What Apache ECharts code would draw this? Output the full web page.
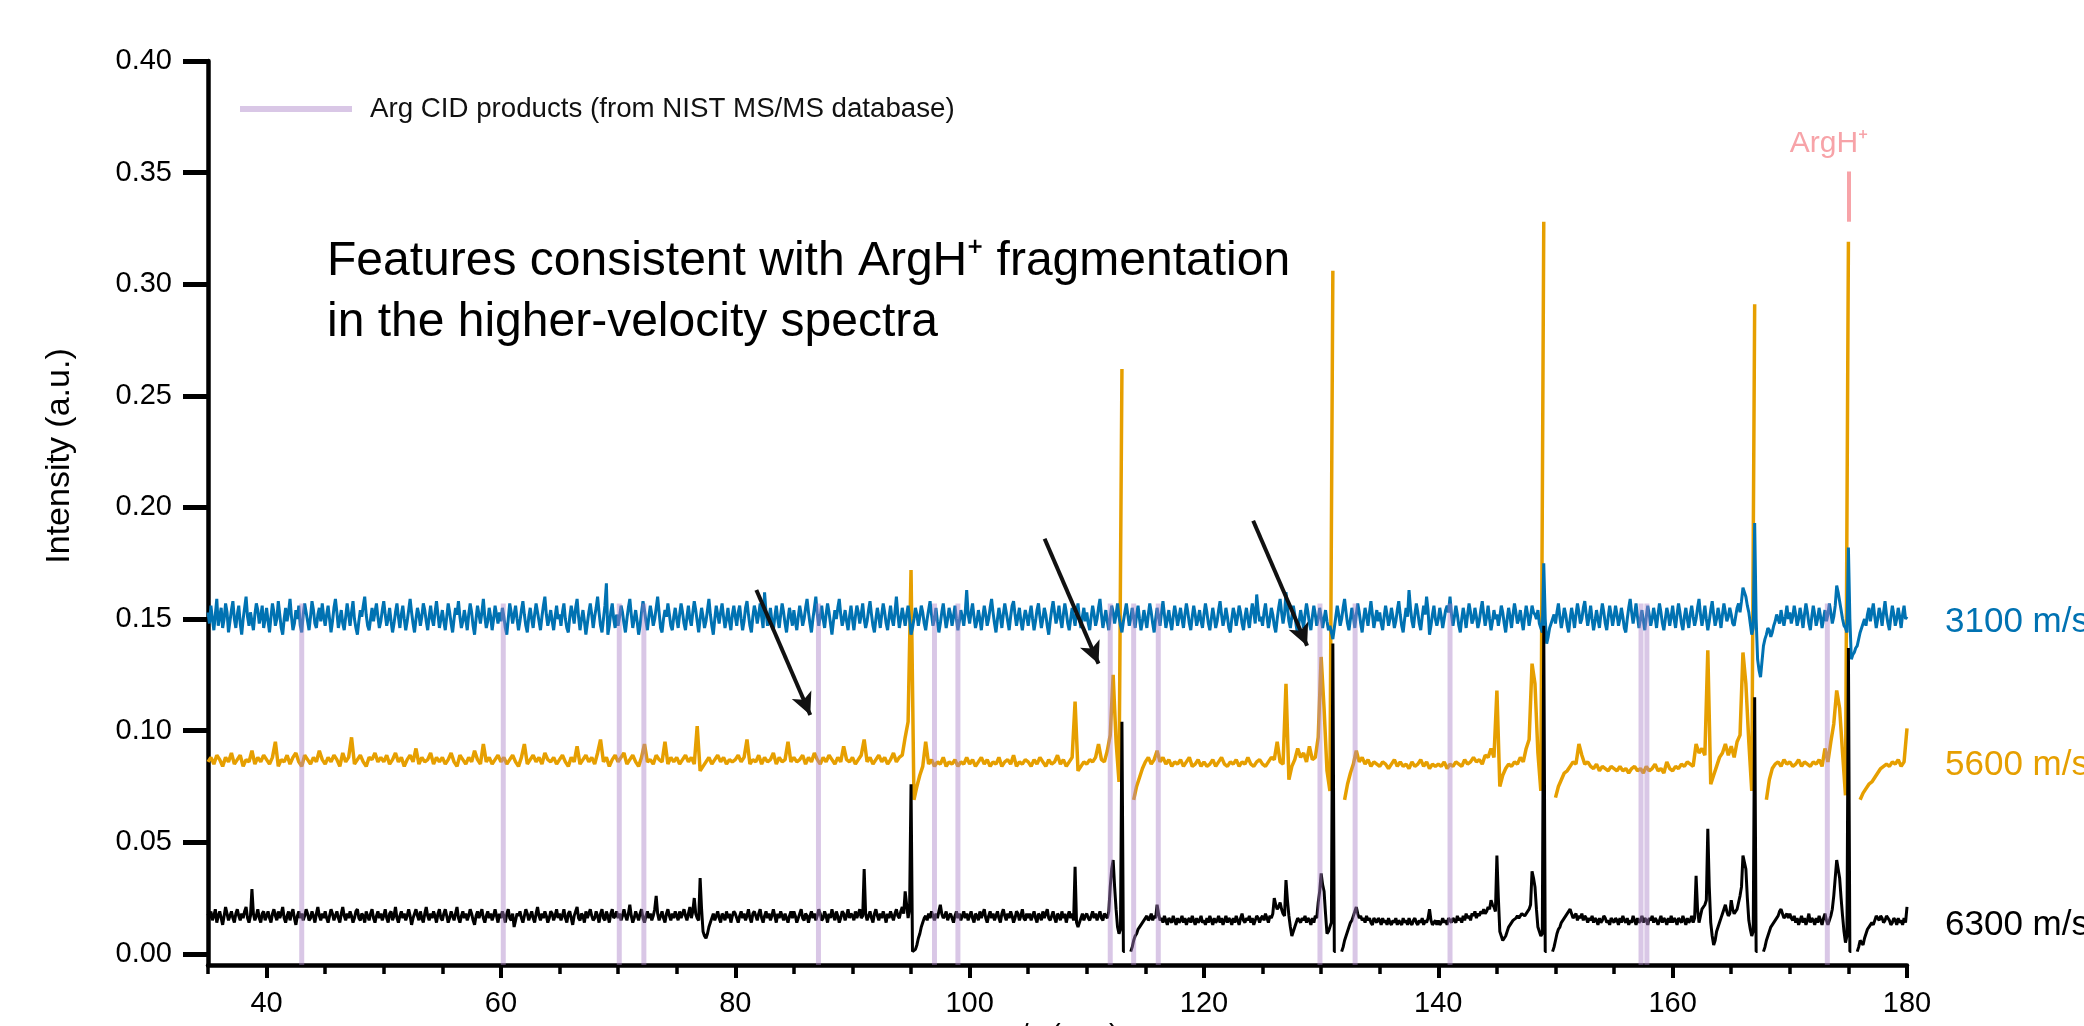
<!DOCTYPE html>
<html>
<head>
<meta charset="utf-8">
<title>ArgH+ spectra</title>
<script src="https://cdn.jsdelivr.net/npm/echarts@6/dist/echarts.min.js"></script>
<style>
  html, body { margin: 0; padding: 0; background: #fff; }
  #chart { width: 2084px; height: 1026px; }
</style>
</head>
<body>
<div id="chart"></div>
<script>
const _ = null;

// all spectra start at m/z 35 and end at 180, intensities in thousandths (a.u.)
// 3100 and 6300 m/s are read every 0.125 m/z, 5600 m/s every 0.25 m/z
const mzStart = 35;
const fineStep = 0.125;
const coarseStep = 0.25;

const blue3100 = [
  153,148,156,150,145,152,159,147,151,155,146,150,157,153,144,149,154,158,150,146,152,156,148,143,150,155,160,151,147,153,149,145,152,157,154,148,151,156,146,150,
  155,149,144,151,157,153,147,150,158,152,146,143,150,155,149,153,159,151,145,148,154,150,156,147,144,152,157,153,149,145,151,158,154,148,146,152,155,149,157,151,
  147,152,156,150,144,149,155,159,153,146,150,154,148,145,151,157,152,147,153,158,150,146,143,149,154,151,156,160,152,147,145,150,155,149,153,157,151,146,149,154,
  158,152,147,150,155,149,144,148,153,157,151,146,152,156,150,145,149,154,159,153,148,144,150,155,152,147,151,157,154,149,145,151,156,150,147,153,158,152,146,150,
  154,149,145,151,157,153,148,144,150,155,152,158,151,146,149,154,150,145,152,157,153,147,143,150,156,152,148,153,159,151,146,149,155,151,145,150,156,152,148,153,
  149,155,151,146,143,150,157,153,148,152,156,150,145,149,154,158,152,147,144,151,155,150,146,152,157,153,149,145,151,156,160,152,147,150,154,149,145,151,156,150,
  152,147,153,157,150,146,144,151,156,152,148,155,159,151,145,150,154,149,143,148,153,157,152,146,151,155,160,153,147,144,150,156,166,143,147,153,157,150,146,152,
  147,151,156,153,148,144,150,155,159,152,146,150,154,149,143,147,153,158,154,149,145,151,156,152,147,150,155,160,153,146,144,150,154,151,157,152,147,145,151,155,
  150,146,152,157,153,148,145,151,156,150,147,153,158,154,149,144,150,155,151,146,149,154,159,152,147,143,150,156,152,148,153,157,151,146,150,155,149,145,152,156,
  151,147,153,156,150,145,149,155,158,152,147,144,151,156,153,148,152,157,151,146,162,153,147,150,155,149,145,151,156,150,146,152,157,153,148,144,150,155,151,147,
  154,149,145,151,156,152,147,150,155,159,153,148,144,150,155,160,152,147,151,156,150,146,152,157,153,148,143,149,154,150,155,159,152,147,150,154,149,145,151,156,
  150,145,151,156,153,148,152,157,150,146,149,154,158,152,147,144,150,155,151,146,152,157,153,148,145,151,156,150,147,153,160,152,146,150,155,151,147,152,156,150,
  143,146,150,155,152,147,151,156,153,148,145,150,154,158,152,147,150,155,149,144,148,153,157,151,146,150,155,152,147,151,156,150,145,149,154,151,147,153,163,152,
  148,153,157,151,146,149,154,150,145,151,156,152,147,150,155,159,153,148,144,150,155,151,146,152,157,153,149,145,151,156,158,152,147,151,155,149,145,150,154,151,
  147,152,156,150,145,149,154,157,151,146,150,155,152,147,143,149,154,158,153,148,151,156,150,146,152,157,153,148,145,150,155,151,147,153,157,150,146,151,155,149,
  153,148,145,151,156,152,147,150,155,159,152,146,150,154,149,145,151,156,153,148,152,157,151,147,144,149,153,157,152,147,150,155,151,146,152,156,150,145,149,154,
  150,146,152,157,153,148,144,150,155,151,147,153,158,152,146,150,154,149,145,151,156,152,147,151,155,150,146,152,157,153,148,145,151,156,152,147,150,154,149,146,
  152,157,153,148,145,150,155,151,146,149,154,158,152,147,150,155,151,146,144,150,155,152,147,151,156,153,148,145,151,155,150,146,152,157,153,148,161,154,149,151,
  147,153,157,151,146,150,155,152,147,144,150,155,159,153,148,152,162,155,149,146,151,156,152,147,143,149,154,150,146,152,157,153,148,145,151,156,152,147,150,155,
  151,146,150,154,149,145,147,144,141,146,151,156,152,147,150,155,159,153,148,145,150,155,151,146,152,157,153,148,144,150,155,151,147,153,158,152,146,150,154,149,
  153,148,145,151,156,152,147,150,155,151,146,149,154,158,152,147,144,150,155,151,163,155,149,146,152,157,153,148,145,151,156,152,160,154,143,147,152,156,150,147,
  150,155,151,146,150,154,156,153,160,152,147,151,156,152,147,144,150,155,151,146,152,157,153,148,150,155,151,146,149,154,158,152,147,151,156,150,145,149,154,150,
  152,147,151,156,153,148,144,150,155,151,146,152,157,153,148,150,154,149,145,151,156,152,147,151,156,153,152,150,154,148,146,144,175,150,139,142,146,148,150,152,
  148,153,157,151,146,150,155,152,147,144,150,155,151,146,152,157,153,148,150,155,158,152,147,151,156,150,145,149,154,150,146,152,157,153,148,145,151,156,152,147,
  151,156,152,147,150,155,151,146,144,150,155,159,153,148,152,157,151,146,150,154,149,145,151,156,152,147,150,155,151,146,152,157,153,148,145,150,155,152,147,151,
  156,150,146,152,157,153,148,145,151,155,150,146,152,156,151,147,150,155,159,152,147,151,156,150,145,149,154,158,152,147,150,155,151,146,152,157,153,149,151,155,
  152,148,147,151,155,157,153,158,164,162,160,156,153,148,143,146,193,150,132,127,124,131,138,141,143,146,145,142,144,147,149,152,152,148,154,150,147,151,156,150,
  153,148,151,156,152,147,150,155,151,146,152,157,153,148,145,151,156,152,147,150,155,151,146,150,154,149,152,157,153,148,151,156,165,162,158,154,150,147,146,144,
  182,150,132,134,135,137,138,141,144,146,148,150,147,152,155,149,153,157,151,146,150,155,152,147,153,158,152,148,145,151,156,152,147,150,155,151,146,152,156,150,
  151
];

const orange5600 = [
  86,88,85,89,87,84,88,86,90,85,87,89,84,87,86,91,85,88,86,89,
  87,85,88,95,84,87,86,89,85,88,90,86,84,89,87,85,88,86,91,87,
  85,88,86,89,87,84,90,86,88,97,85,87,89,86,84,88,87,90,86,88,
  86,89,85,87,90,86,88,84,87,89,86,92,85,88,86,87,90,85,88,86,
  88,85,87,90,86,84,89,87,85,88,86,91,87,85,94,86,88,85,87,89,
  86,88,85,87,89,86,84,88,94,85,87,89,86,88,85,90,87,86,88,85,
  87,89,86,84,88,86,93,85,87,89,86,88,85,90,96,86,88,84,87,89,
  86,88,90,85,87,89,86,84,88,94,86,87,85,89,87,86,95,85,88,86,
  88,85,87,89,86,88,85,102,82,84,86,88,85,87,89,86,88,85,87,86,
  87,89,86,88,96,85,87,86,89,85,88,86,87,90,85,88,86,87,95,86,
  88,86,87,89,85,88,86,90,87,85,88,86,89,87,85,88,86,93,87,86,
  88,85,87,89,96,86,88,85,87,89,86,88,85,87,90,86,88,89,97,104,
  172,69,75,80,84,95,85,87,84,86,85,88,84,86,85,87,84,86,85,88,
  85,87,84,86,88,85,87,84,86,85,88,84,86,87,85,89,84,86,85,87,
  86,84,87,85,88,86,84,87,85,86,89,85,87,84,86,88,113,82,84,86,
  85,87,86,88,94,87,86,91,98,125,95,77,262,_,_,_,69,75,79,83,
  86,88,85,87,91,86,88,85,87,84,86,85,87,84,86,88,84,85,87,84,
  86,84,85,87,84,86,88,85,84,86,85,87,84,86,85,88,85,84,86,87,
  85,84,86,88,87,95,86,85,121,78,84,87,92,88,90,86,93,87,88,97,
  133,110,82,73,306,_,_,_,69,76,81,85,91,86,88,85,87,84,86,85,
  84,86,85,83,85,87,84,86,84,85,83,86,84,85,87,84,86,83,85,84,
  85,84,86,83,85,84,86,85,84,87,85,86,88,86,87,85,89,88,92,88,
  118,75,80,83,85,84,86,85,88,86,92,96,130,121,90,73,328,_,_,_,
  70,75,78,81,82,84,86,85,94,89,85,86,84,83,85,82,84,83,82,84,
  83,82,84,82,83,81,83,84,82,83,81,84,82,83,85,82,83,81,86,83,
  82,84,83,85,84,86,85,84,94,90,92,89,136,76,80,84,88,90,94,89,
  93,88,95,98,135,121,95,73,291,_,_,_,69,78,83,85,86,84,87,85,
  86,84,85,87,84,86,85,84,86,85,87,84,92,86,95,103,118,110,90,71,
  319,_,_,_,69,72,74,76,77,79,81,83,84,85,84,86,85,87,84,86,
  101
];

const black6300 = [
  18,16,19,15,17,20,14,17,19,16,13,17,21,18,15,17,19,16,14,18,20,17,15,18,16,19,21,16,14,17,29,18,15,17,20,16,14,18,19,15,
  17,19,16,14,18,20,17,15,19,16,18,21,16,14,17,19,15,18,20,16,13,17,19,16,18,15,17,20,18,15,16,19,17,14,18,21,17,15,18,16,
  19,16,14,17,20,18,15,17,19,16,14,18,21,17,15,18,16,19,17,14,16,19,20,16,15,18,17,14,19,17,15,18,20,16,14,17,19,16,18,15,
  17,20,16,14,18,19,15,17,21,16,14,17,19,16,18,15,17,20,17,13,16,18,20,17,15,19,16,14,18,21,17,15,18,16,19,17,14,18,20,16,
  15,18,20,17,14,16,19,17,15,18,21,16,14,17,19,16,18,15,17,20,18,15,13,17,19,16,18,20,16,14,17,19,16,18,15,17,20,17,14,18,
  16,19,17,14,18,20,16,15,18,12,15,18,17,19,16,14,17,20,18,15,17,19,16,14,18,21,17,15,18,16,19,17,14,16,19,18,15,17,20,16,
  18,15,17,20,16,14,18,19,16,13,17,19,21,16,15,18,17,14,19,16,18,20,17,15,16,19,17,14,18,20,16,15,19,17,14,18,20,16,17,19,
  16,18,15,17,20,17,15,18,22,17,14,16,19,17,15,18,20,16,14,17,19,16,18,15,17,20,26,18,15,17,19,16,14,18,20,17,15,18,16,19,
  17,15,19,16,18,20,17,15,18,21,16,19,25,18,16,15,34,20,10,8,7,9,12,14,16,18,15,17,19,16,14,18,17,15,19,16,18,14,17,19,
  18,16,14,17,19,16,18,15,17,20,16,14,18,19,17,15,18,20,16,14,17,19,16,18,15,17,20,17,14,18,16,19,17,15,18,16,14,17,19,16,
  19,17,14,16,18,20,16,15,18,17,14,17,19,16,18,15,17,20,18,15,16,19,17,14,18,16,20,17,15,19,17,14,16,19,18,15,17,20,16,18,
  17,15,19,16,18,20,16,17,38,18,15,17,19,16,14,18,20,17,15,18,16,19,17,14,18,16,19,17,15,18,20,17,16,19,21,18,28,22,16,20,
  76,1,1,2,4,7,9,12,14,16,17,15,18,16,19,17,15,18,16,19,22,18,16,17,19,15,17,18,16,14,17,19,16,18,15,17,19,16,18,15,
  17,19,16,14,18,17,15,19,16,18,20,16,14,17,19,16,18,15,17,19,16,14,18,20,17,15,18,16,19,17,14,16,19,18,15,17,20,16,15,18,
  16,18,15,17,19,16,14,18,17,15,19,16,18,20,16,15,17,19,16,14,18,17,15,19,16,18,14,17,19,16,18,15,39,14,12,14,16,18,15,17,
  18,16,15,17,19,16,18,15,17,19,16,15,18,17,16,19,30,38,42,30,20,12,9,11,104,1,1,_,_,_,1,3,6,8,9,11,12,13,14,15,
  16,17,15,16,18,15,17,16,22,18,15,16,14,17,15,13,16,15,14,17,15,13,16,14,15,17,14,16,13,15,16,14,17,15,13,16,14,15,17,14,
  15,13,16,14,17,15,13,16,14,15,17,14,16,13,15,17,14,16,15,13,16,14,17,15,13,16,18,15,14,16,15,17,14,16,13,15,17,16,14,16,
  17,15,18,16,14,17,16,18,25,22,20,21,23,20,18,17,33,24,17,12,8,10,12,14,16,15,14,16,15,17,14,16,15,13,16,14,17,16,23,28,
  36,31,28,18,9,10,12,14,139,1,1,_,_,_,1,3,6,8,10,12,14,15,17,19,21,18,16,17,15,16,14,17,15,16,14,13,16,15,14,16,
  15,13,16,14,15,13,16,14,13,15,14,16,13,15,14,13,16,14,15,13,16,14,13,15,16,14,13,15,14,16,13,15,14,16,20,15,13,14,15,13,
  15,13,14,16,14,15,13,16,15,14,16,15,14,17,15,16,14,17,15,18,16,17,15,18,17,19,16,18,17,19,18,20,18,19,21,20,24,22,21,19,
  44,25,10,8,6,7,8,10,12,13,14,15,15,16,17,16,17,18,18,17,18,19,20,22,37,34,30,20,12,10,8,9,147,1,1,_,_,_,1,3,
  6,9,11,12,14,15,16,17,18,19,20,18,16,17,18,15,17,16,18,15,17,16,14,16,15,17,14,16,15,13,16,14,15,17,16,14,15,13,16,15,
  14,16,15,13,16,14,17,15,14,16,13,15,14,17,15,13,16,14,15,17,14,16,15,13,16,15,17,14,16,15,13,15,17,14,16,15,13,16,14,17,
  14,16,15,13,16,15,14,17,15,13,16,14,15,17,14,16,35,20,14,17,20,21,22,24,56,30,14,8,4,6,10,12,14,16,18,20,22,19,17,18,
  24,20,18,19,20,23,26,30,44,41,38,25,15,11,8,10,115,1,1,_,_,_,1,3,6,8,10,12,13,14,15,16,17,19,20,18,16,17,18,16,
  18,16,15,17,14,16,13,15,17,14,16,13,15,18,14,16,15,13,16,14,17,15,13,16,18,15,13,15,17,20,26,34,42,38,34,25,17,10,5,8,
  137,1,1,_,_,_,1,3,6,5,4,7,9,11,12,13,14,13,15,17,16,15,17,16,14,15,17,16,15,13,14,16,15,13,16,14,15,13,16,14,
  21
];

// Arg CID product m/z (NIST MS/MS), drawn as bands up to this intensity
const cidMz = [43, 60.2, 70.1, 72.2, 87.1, 97, 99, 112, 114, 116.1, 129.9, 132.9, 141, 157.3, 157.8, 173.2];
const cidTop = 0.157;

const xTicks = [40, 60, 80, 100, 120, 140, 160, 180];
const xMinorTicks = [35, 45, 50, 55, 65, 70, 75, 85, 90, 95, 105, 110, 115, 125, 130, 135, 145, 150, 155, 165, 170, 175];
const yTicks = [0, 0.05, 0.1, 0.15, 0.2, 0.25, 0.3, 0.35, 0.4];

// arrows [from, to] in [m/z, intensity]
const arrows = [
  [[81.8, 0.163], [86.4, 0.107]],
  [[106.4, 0.186], [111.0, 0.130]],
  [[124.2, 0.194], [128.8, 0.138]]
];
const parentMz = 175.05;
const parentBar = [0.328, 0.3505];

const yMin = -0.005;
const font = '"Liberation Sans", Arial, sans-serif';
const BLUE = '#0072B2', ORANGE = '#E69F00', BLACK = '#000000';
const CID = 'rgba(170,130,200,0.45)';
const PINK = '#f7a3a8';
const cidName = 'Arg CID products (from NIST MS/MS database)';

function toPairs(values, step) {
  return values.map((v, i) => [mzStart + i * step, v === null ? '-' : v / 1000]);
}

const cidData = [];
cidMz.forEach(function (m) {
  cidData.push([m, yMin], [m, cidTop], [m, '-']);
});

const chart = echarts.init(document.getElementById('chart'));

const option = {
  animation: false,
  backgroundColor: '#fff',
  textStyle: { fontFamily: font },
  grid: { left: 208, right: 177, top: 61, bottom: 61, containLabel: false, outerBoundsMode: 'none' },
  legend: {
    data: [{ name: cidName, icon: 'rect' }],
    left: 240,
    top: 95,
    padding: 0,
    itemWidth: 112,
    itemHeight: 6,
    selectedMode: false,
    textStyle: { fontSize: 27.7, color: '#111', fontFamily: font, padding: [0, 0, 0, 13] }
  },
  xAxis: [
    {
      type: 'value', min: 35, max: 180,
      name: 'm/z (a.u.)', nameLocation: 'middle', nameGap: 51,
      nameTextStyle: { fontSize: 29, color: '#000', fontFamily: font },
      axisLine: { onZero: false, lineStyle: { color: '#000', width: 4.5 } },
      axisTick: { customValues: xTicks, length: 13, lineStyle: { color: '#000', width: 4 } },
      axisLabel: { customValues: xTicks, margin: 24, fontSize: 29, color: '#000', fontFamily: font },
      splitLine: { show: false }
    },
    {
      type: 'value', min: 35, max: 180, position: 'bottom',
      axisLine: { show: false, onZero: false },
      axisTick: { customValues: xMinorTicks, length: 9, lineStyle: { color: '#000', width: 3.5 } },
      axisLabel: { show: false },
      splitLine: { show: false }
    }
  ],
  yAxis: {
    type: 'value', min: yMin, max: 0.4,
    axisLine: { show: true, onZero: false, lineStyle: { color: '#000', width: 4.5 } },
    axisTick: { show: true, customValues: yTicks, length: 25, lineStyle: { color: '#000', width: 5 } },
    axisLabel: {
      customValues: yTicks, margin: 36, fontSize: 29, color: '#000', fontFamily: font,
      formatter: function (v) { return v.toFixed(2); }
    },
    splitLine: { show: false }
  },
  series: [
    {
      name: '5600 m/s', type: 'line', data: toPairs(orange5600, coarseStep),
      symbol: 'none', connectNulls: false, z: 2,
      lineStyle: { color: ORANGE, width: 3.5 }, itemStyle: { color: ORANGE },
      markLine: {
        silent: true, symbol: 'none',
        lineStyle: { color: PINK, width: 4, type: 'solid' },
        label: {
          show: true, position: 'end', formatter: 'ArgH\u207A', color: PINK,
          fontSize: 30, fontFamily: font, distance: 13, padding: [0, 40, 0, 0]
        },
        data: [[{ coord: [parentMz, parentBar[0]] }, { coord: [parentMz, parentBar[1]] }]]
      }
    },
    {
      name: '3100 m/s', type: 'line', data: toPairs(blue3100, fineStep),
      symbol: 'none', connectNulls: false, z: 3,
      lineStyle: { color: BLUE, width: 3 }, itemStyle: { color: BLUE }
    },
    {
      name: '6300 m/s', type: 'line', data: toPairs(black6300, fineStep),
      symbol: 'none', connectNulls: false, z: 4,
      lineStyle: { color: BLACK, width: 3 }, itemStyle: { color: BLACK },
      markLine: {
        silent: true, symbol: ['none', 'arrow'], symbolSize: [16, 22],
        lineStyle: { color: '#111', width: 4, type: 'solid' },
        label: { show: false },
        data: arrows.map(function (a) { return [{ coord: a[0] }, { coord: a[1] }]; })
      }
    },
    {
      name: cidName, type: 'line', data: cidData,
      symbol: 'none', connectNulls: false, z: 5,
      lineStyle: { color: CID, width: 5 }, itemStyle: { color: CID }
    }
  ],
  graphic: [
    {
      type: 'text', x: 60, y: 456, rotation: Math.PI / 2, silent: true,
      style: { text: 'Intensity (a.u.)', fontSize: 34, fontFamily: font, fill: '#000', align: 'center', verticalAlign: 'middle' }
    },
    {
      type: 'text', x: 327, y: 231, silent: true,
      style: {
        text: 'Features consistent with ArgH\u207A fragmentation\nin the higher-velocity spectra',
        fontSize: 48, lineHeight: 61, fontFamily: font, fill: '#000', verticalAlign: 'top'
      }
    },
    { type: 'text', x: 1945, y: 622, silent: true, style: { text: '3100 m/s', fontSize: 35, fontFamily: font, fill: BLUE, verticalAlign: 'middle' } },
    { type: 'text', x: 1945, y: 765, silent: true, style: { text: '5600 m/s', fontSize: 35, fontFamily: font, fill: ORANGE, verticalAlign: 'middle' } },
    { type: 'text', x: 1945, y: 925, silent: true, style: { text: '6300 m/s', fontSize: 35, fontFamily: font, fill: BLACK, verticalAlign: 'middle' } }
  ]
};

chart.setOption(option);
</script>
</body>
</html>
